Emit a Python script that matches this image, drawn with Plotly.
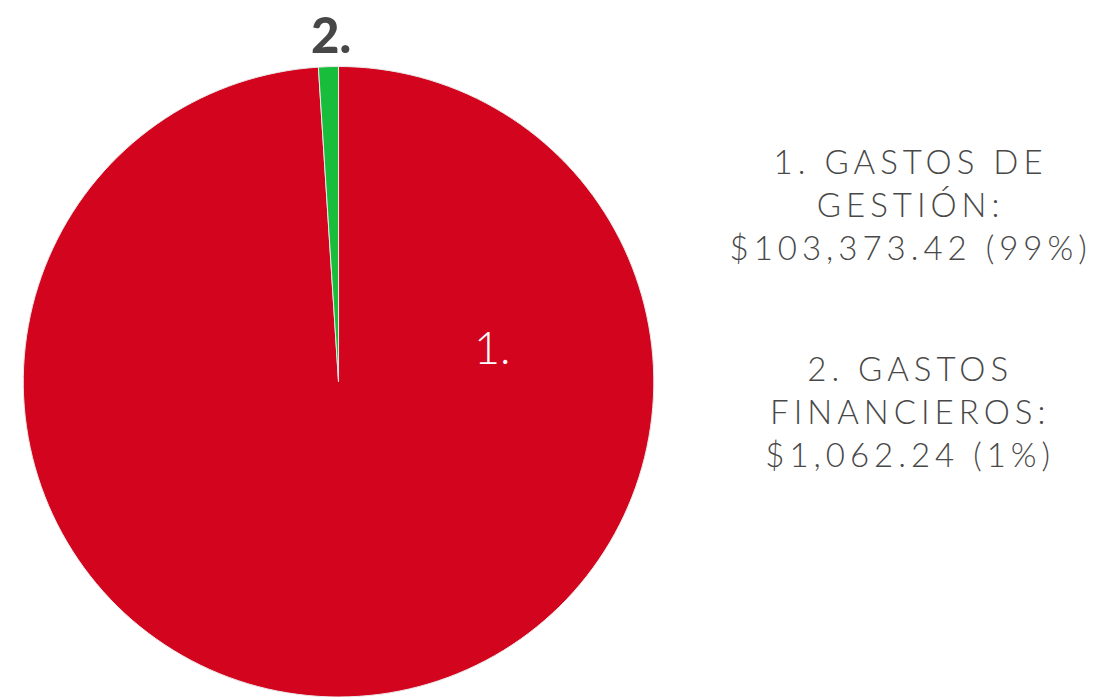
import plotly.graph_objects as go

labels = ["1.", "2."]
names = ["GASTOS DE<br>GESTIÓN:", "GASTOS<br>FINANCIEROS:"]
values = [103373.42, 1062.24]
amounts = ["$103,373.42", "$1,062.24"]
pcts = ["99%", "1%"]
colors = ["#d3051e", "#17bd3b"]

W, H = 1100, 697
fig = go.Figure(go.Pie(
    labels=labels, values=values, sort=False, direction="clockwise", rotation=0,
    marker=dict(colors=colors, line=dict(color="#e8e8e8", width=1)),
    textinfo="none", hoverinfo="label+value+percent", showlegend=False,
    domain=dict(x=[0.0195, 0.596], y=[0.0, 0.9046]),
))

font = "Lato, 'Open Sans', sans-serif"
ann = dict(xref="paper", yref="paper", showarrow=False, xanchor="center", yanchor="middle")
# slice labels
fig.add_annotation(x=492/W, y=1-347/H, text=labels[0],
                   font=dict(family=font, size=45, color="white", weight=300), **ann)
fig.add_annotation(x=331/W, y=1-34/H, text=labels[1],
                   font=dict(family=font, size=49, color="#474747", weight=900), **ann)

for i, yc in enumerate([204, 411]):
    txt = f"{labels[i]} {names[i]}<br>{amounts[i]} ({pcts[i]})"
    fig.add_annotation(x=910/W, y=1-yc/H, text=txt, align="center",
                       font=dict(family=font, size=33, color="#484848", weight=300), **ann)

fig.update_layout(width=W, height=H, margin=dict(l=0, r=0, t=0, b=0),
                  paper_bgcolor="white", plot_bgcolor="white")

post = """
document.body.style.margin='0';
var a = document.querySelectorAll('.annotation-text');
for (var i = 2; i < a.length; i++) { a[i].style.letterSpacing = '5px'; }
"""
fig.write_html("out.html", post_script=post, config={"displayModeBar": False})
